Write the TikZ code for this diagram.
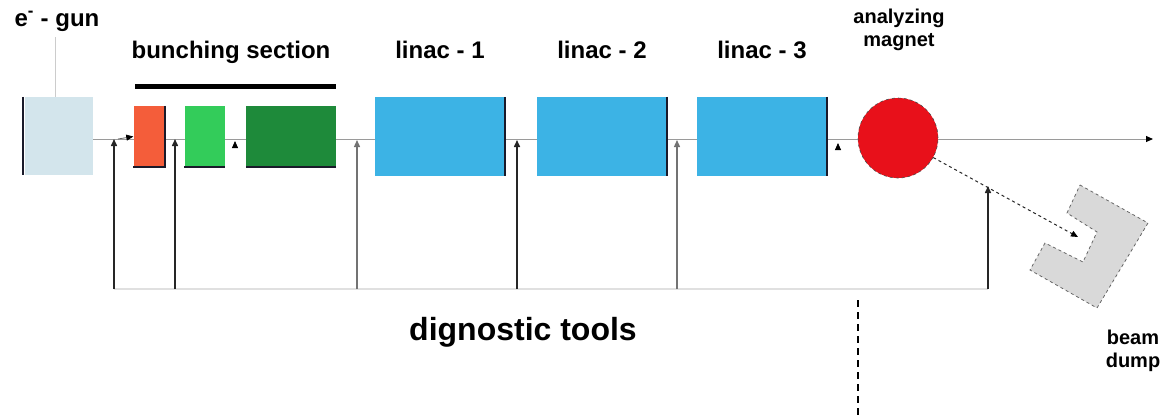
\documentclass[tikz,border=0pt]{standalone}
\usepackage{fontspec}
\setmainfont{Liberation Sans}
\usetikzlibrary{arrows.meta}

\definecolor{gunblue}{HTML}{D3E5EC}
\definecolor{buncherred}{HTML}{F45D3A}
\definecolor{lightgrn}{HTML}{33CC5A}
\definecolor{darkgrn}{HTML}{1E8A3A}
\definecolor{linacblue}{HTML}{3CB3E5}
\definecolor{magred}{HTML}{E8101A}
\definecolor{dumpgray}{HTML}{D9D9D9}
\definecolor{beamgray}{HTML}{9A9A9A}
\definecolor{edgecol}{HTML}{1A1A2A}

\tikzset{
  lbl/.style={font=\bfseries\fontsize{24}{26}\selectfont, inner sep=0pt, text=black},
  bigl/.style={font=\bfseries\fontsize{32}{34}\selectfont, inner sep=0pt, text=black},
  smalll/.style={font=\bfseries\fontsize{20}{23}\selectfont, inner sep=0pt, text=black, align=center},
  blk/.style={draw=none, inner sep=0pt, minimum width=#1},
  gunbox/.style={blk=68pt, minimum height=78pt, fill=gunblue},
  bunchbox/.style={blk=#1, minimum height=61pt},
  linacbox/.style={blk=130pt, minimum height=79pt, fill=linacblue},
  darkedge/.style={draw=edgecol, line width=1.6pt},
  beamline/.style={draw=beamgray, line width=1pt},
  tip/.style={-{Triangle[length=7pt,width=6pt]}},
  blacktip/.style={-{Triangle[length=7pt,width=6pt,color=black]}},
  diagarrow/.style={draw=black!85, line width=1.5pt, tip},
  diaggray/.style={draw=black!55, line width=1.3pt, tip},
  diagbase/.style={draw=black!12, line width=1.2pt},
}

\begin{document}
\begin{tikzpicture}[x=1pt, y=-1pt]
\useasboundingbox (0,0) rectangle (1163,418);

% beam axis, drawn first so the structures sit on top of it
\coordinate (beamstart) at (93,139);
\coordinate (beamend) at (1153,139);
\draw[beamline, blacktip] (beamstart) -- (beamend);

% electron gun
\node[gunbox] (gun) at (59,136) {};
\draw[darkedge] ([xshift=-2pt]gun.north west) -- ([xshift=-2pt]gun.south west);
\node[lbl, anchor=base] (gunlbl) at (57,26) {e\textsuperscript{-} - gun};
\coordinate (gunlblfoot) at (55,37);
\coordinate (guntop) at (55,97);
\draw[draw=black!20, line width=1pt] (gunlblfoot) -- (guntop);

% bunching section
\node[lbl, anchor=base] (bunchlbl) at (231,58) {bunching section};
\coordinate (barL) at (135,86);
\coordinate (barR) at (336,86);
\draw[line width=5pt] (barL) -- (barR);

\node[bunchbox=31pt, fill=buncherred] (pb) at (149,136.5) {};
\draw[darkedge] (pb.north east) -- (pb.south east) -- (pb.south west);
\node[bunchbox=40pt, fill=lightgrn] (b1) at (204.5,136.5) {};
\draw[darkedge] (b1.south east) -- (b1.south west);
\node[bunchbox=90pt, fill=darkgrn] (b2) at (291,136.5) {};
\draw[darkedge] (b2.south east) -- (b2.south west);

% entrance arrow into the prebuncher
\coordinate (pbin) at (118,139);
\draw[blacktip, draw=black!60, line width=0.8pt] (pbin) -- (pb.west);

% linac sections
\node[linacbox] (l1) at (440,136.5) {};
\node[linacbox] (l2) at (602,136.5) {};
\node[linacbox] (l3) at (762,136.5) {};
\foreach \n in {l1,l2,l3}
  \draw[darkedge] (\n.north east) -- (\n.south east);
\node[lbl, anchor=base] (l1lbl) at (l1 |- 0,58) {linac - 1};
\node[lbl, anchor=base] (l2lbl) at (l2 |- 0,58) {linac - 2};
\node[lbl, anchor=base] (l3lbl) at (l3 |- 0,58) {linac - 3};

% analyzing magnet
\node[circle, minimum size=80pt, inner sep=0pt, fill=magred,
      draw=black!70, dashed, line width=0.6pt] (mag) at (898,138) {};
\node[smalll, anchor=north] (maglbl) at (899,9) {analyzing\\magnet};

% beam dump
\coordinate (dumpin) at (1078,237);
\draw[fill=dumpgray, draw=black!60, dashed, line width=0.8pt]
  (1080,185) -- (1148,223) -- (1097,308) -- (1030,270) -- (1045,243)
  -- (1083,262) -- (1097,232) -- (1067,213) -- cycle;
\node[smalll, anchor=north] (dumplbl) at (1133,330) {beam\\dump};

% deflected beam into the dump
\draw[dashed, draw=black!85, line width=1pt, blacktip] (mag.-29) -- (dumpin);

% small markers on the beam axis
\coordinate (m1a) at (235,147);
\coordinate (m1b) at (235,141);
\draw[tip, line width=0.8pt] (m1a) -- (m1b);
\coordinate (m2a) at (838,149);
\coordinate (m2b) at (838,143);
\draw[tip, line width=0.8pt] (m2a) -- (m2b);

% diagnostic tools
\coordinate (d1) at (114,289);
\coordinate (d2) at (175,289);
\coordinate (d3) at (357,289);
\coordinate (d4) at (517,289);
\coordinate (d5) at (677,289);
\coordinate (d6) at (988,289);
\draw[diagbase] (d1) -- (d6);
\coordinate (t1) at (114,139);
\coordinate (t2) at (175,139);
\coordinate (t3) at (357,140);
\coordinate (t4) at (517,140);
\coordinate (t5) at (677,140);
\coordinate (t6) at (988,186);
\draw[diagarrow] (d1) -- (t1);
\draw[diagarrow] (d2) -- (t2);
\draw[diaggray] (d3) -- (t3);
\draw[diagarrow] (d4) -- (t4);
\draw[diaggray] (d5) -- (t5);
\draw[diagarrow] (d6) -- (t6);
\node[bigl, anchor=base] (diaglbl) at (523,340) {dignostic tools};

% dashed boundary line
\coordinate (v1) at (858,300);
\coordinate (v2) at (858,418);
\draw[line width=2pt, dash pattern=on 7pt off 5pt] (v1) -- (v2);
\end{tikzpicture}
\end{document}
